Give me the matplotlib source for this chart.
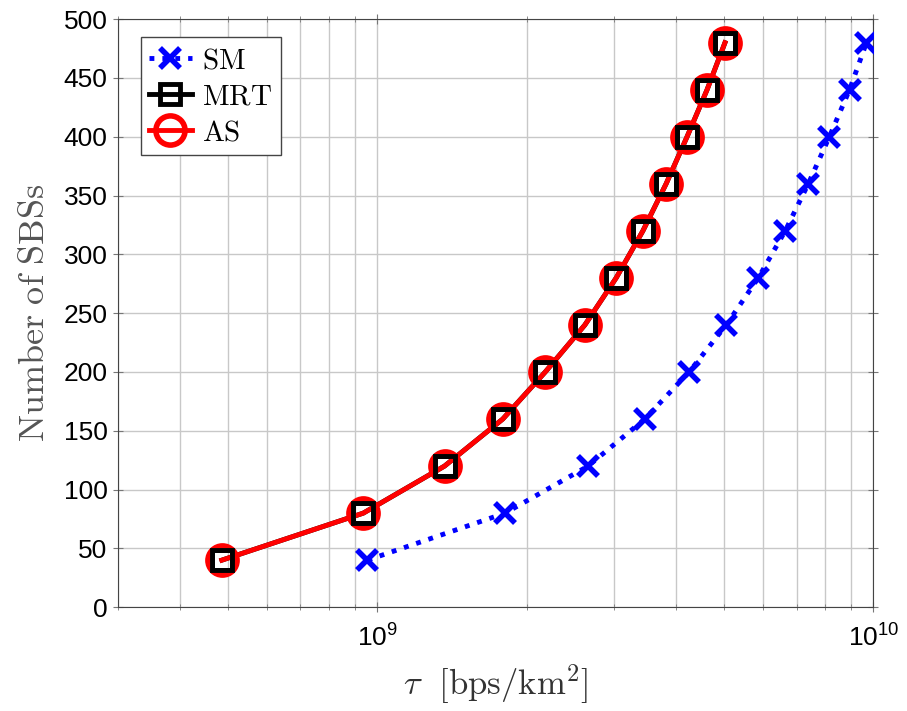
import matplotlib
matplotlib.use("Agg")
import matplotlib.pyplot as plt
from matplotlib.ticker import FuncFormatter, LogLocator
import numpy as np

plt.rcParams['font.family'] = ['Liberation Sans', 'DejaVu Sans']
plt.rcParams['mathtext.fontset'] = 'custom'
plt.rcParams['mathtext.rm'] = 'Liberation Sans'
plt.rcParams['mathtext.it'] = 'Liberation Sans:italic'

num_sbs = [40, 80, 120, 160, 200, 240, 280, 320, 360, 400, 440, 480]

tau_sm = [9.55e8, 1.81e9, 2.66e9, 3.46e9, 4.25e9, 5.05e9,
          5.86e9, 6.64e9, 7.39e9, 8.15e9, 8.95e9, 9.68e9]
tau_mrt = [4.86e8, 9.37e8, 1.366e9, 1.79e9, 2.18e9, 2.62e9,
           3.03e9, 3.43e9, 3.82e9, 4.21e9, 4.62e9, 5.02e9]
tau_as = list(tau_mrt)

y_ticks = [0, 50, 100, 150, 200, 250, 300, 350, 400, 450, 500]
legend_labels = ['SM', 'MRT', 'AS']

fig, ax = plt.subplots(figsize=(9.07, 7.11), dpi=100)
fig.subplots_adjust(left=0.13, right=0.963, top=0.973, bottom=0.146)

ax.plot(tau_sm, num_sbs, color='blue', linestyle=':', linewidth=3.5,
        marker='x', markersize=14, markeredgewidth=4, zorder=3)
ax.plot(tau_mrt, num_sbs, color='black', linestyle='-', linewidth=3.5,
        marker='s', markersize=14, markerfacecolor='none', markeredgewidth=3.5,
        zorder=2)
ax.plot(tau_as, num_sbs, color='red', linestyle='-', linewidth=3.5,
        marker='o', markersize=21, markerfacecolor='none', markeredgewidth=4,
        zorder=3)
# squares sit on top of the red circles
ax.plot(tau_mrt, num_sbs, linestyle='none', marker='s', markersize=14,
        markerfacecolor='none', markeredgecolor='black', markeredgewidth=3.5,
        zorder=4)

ax.set_xscale('log')
ax.set_xlim(3e8, 1e10)
ax.set_ylim(0, 500)
ax.set_yticks(y_ticks)

ax.xaxis.set_major_formatter(FuncFormatter(
    lambda v, p: r'$\mathrm{10^{%d}}$' % int(round(np.log10(v)))))
ax.xaxis.set_minor_locator(LogLocator(base=10, subs=np.arange(2, 10)))

ax.grid(True, which='major', color='#c8c8c8', linewidth=1)
ax.grid(True, which='minor', axis='x', color='#c8c8c8', linewidth=1)
ax.tick_params(which='both', direction='inout', top=True, right=True,
               labelsize=19, color='#777777')
ax.tick_params(which='major', length=7)
ax.tick_params(which='minor', length=4)
ax.tick_params(axis='x', pad=9)
ax.tick_params(axis='y', pad=4)
for s in ax.spines.values():
    s.set_color('#444444')

ax.set_xlabel(r'$\tau\ \ [\mathrm{bps/km}^2]$', fontsize=25, color='#333333',
              labelpad=8, math_fontfamily='cm')
ax.set_ylabel(r'$\mathrm{Number\ of\ SBSs}$', fontsize=26, color='#555555',
              labelpad=8, math_fontfamily='cm')

leg = ax.legend(ax.get_lines()[:3], legend_labels, loc='upper left',
                bbox_to_anchor=(0.03, 0.969), borderaxespad=0,
                fancybox=False, edgecolor='#444444', framealpha=1,
                handlelength=1.45, borderpad=0.3, labelspacing=0.28,
                handletextpad=0.35, fontsize=21)
for t, s in zip(leg.get_texts(), legend_labels):
    t.set_text(r'$\mathrm{%s}$' % s)
    t.set_math_fontfamily('cm')
leg.get_frame().set_linewidth(1)

fig.savefig('out.png', dpi=100)
